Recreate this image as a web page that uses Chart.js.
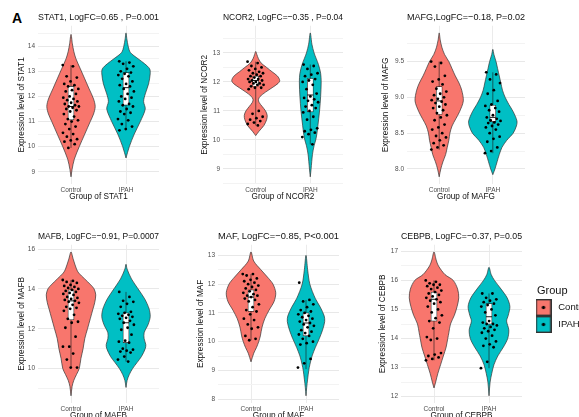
<!DOCTYPE html>
<html>
<head>
<meta charset="utf-8">
<script src="https://cdn.jsdelivr.net/npm/chart.js@4.4.1/dist/chart.umd.min.js"></script>
<style>
  html, body { margin: 0; padding: 0; background: #fff; overflow: hidden; width: 579px; height: 417px; }
  canvas { position: absolute; }
  #tag { position: absolute; left: 12px; top: 11px; font: bold 14px/14px "Liberation Sans", Arial, sans-serif; color: #000; }
</style>
</head>
<body>
<div id="tag">A</div>
<script>
// ---- data ----
const groups = ['Control', 'IPAH'];
const genes = ['STAT1', 'NCOR2', 'MAFG', 'MAFB', 'MAF', 'CEBPB'];
const titles = [
  'STAT1, LogFC=0.65 , P=0.001',
  'NCOR2, LogFC=\u22120.35 , P=0.04',
  'MAFG,LogFC=\u22120.18, P=0.02',
  'MAFB, LogFC=\u22120.91, P=0.0007',
  'MAF, LogFC=\u22120.85, P<0.001',
  'CEBPB, LogFC=\u22120.37, P=0.05'
];

// y tick labels
const stat1Ticks = ['9', '10', '11', '12', '13', '14'];
const ncor2Ticks = ['9', '10', '11', '12', '13'];
const mafgTicks = ['8.0', '8.5', '9.0', '9.5'];
const mafbTicks = ['10', '12', '14', '16'];
const mafTicks = ['8', '9', '10', '11', '12', '13'];
const cebpbTicks = ['12', '13', '14', '15', '16', '17'];

// violin outlines: [expression, half width]
const stat1CtrlViolin = [[8.8,0],[9.1,0.02],[9.5,0.06],[10,0.15],[10.5,0.25],[11,0.35],[11.3,0.41],[11.6,0.44],[11.9,0.41],[12.3,0.33],[12.7,0.25],[13.1,0.17],[13.5,0.09],[13.8,0.05],[14.1,0.025],[14.47,0]];
const stat1IpahViolin = [[9.55,0],[10,0.06],[10.5,0.15],[11,0.26],[11.5,0.35],[11.8,0.32],[12.1,0.35],[12.5,0.41],[12.9,0.44],[13.1,0.43],[13.3,0.34],[13.5,0.22],[13.75,0.08],[14,0.04],[14.3,0.015],[14.53,0]];
const ncor2CtrlViolin = [[10.15,0],[10.3,0.06],[10.5,0.15],[10.7,0.2],[10.85,0.21],[11,0.18],[11.15,0.12],[11.3,0.06],[11.4,0.05],[11.5,0.08],[11.65,0.18],[11.8,0.3],[11.95,0.41],[12.05,0.44],[12.2,0.4],[12.35,0.3],[12.5,0.2],[12.65,0.1],[12.8,0.05],[12.95,0.02],[13.05,0]];
const ncor2IpahViolin = [[8.73,0],[9,0.015],[9.5,0.04],[9.8,0.07],[10,0.1],[10.2,0.12],[10.5,0.14],[11,0.17],[11.5,0.19],[12,0.2],[12.3,0.19],[12.6,0.15],[12.8,0.11],[13,0.07],[13.3,0.03],[13.69,0]];
const mafgCtrlViolin = [[7.89,0],[8,0.03],[8.1,0.07],[8.2,0.12],[8.3,0.15],[8.4,0.18],[8.5,0.2],[8.6,0.24],[8.7,0.31],[8.8,0.38],[8.95,0.45],[9.1,0.42],[9.2,0.37],[9.3,0.3],[9.4,0.24],[9.5,0.18],[9.6,0.1],[9.7,0.05],[9.8,0.02],[9.9,0]];
const mafgIpahViolin = [[7.92,0],[8,0.04],[8.1,0.08],[8.2,0.12],[8.3,0.17],[8.4,0.26],[8.5,0.38],[8.6,0.44],[8.67,0.45],[8.8,0.38],[8.9,0.3],[9,0.23],[9.1,0.18],[9.2,0.15],[9.3,0.12],[9.4,0.09],[9.5,0.06],[9.6,0.02],[9.67,0]];
const mafbCtrlViolin = [[8.63,0],[9.1,0.02],[9.4,0.05],[9.7,0.1],[10,0.15],[10.5,0.18],[11,0.22],[11.5,0.25],[12,0.3],[12.5,0.35],[13,0.4],[13.3,0.43],[13.7,0.45],[14,0.42],[14.2,0.36],[14.5,0.25],[14.8,0.14],[15,0.1],[15.5,0.04],[15.86,0]];
const mafbIpahViolin = [[9.05,0],[9.4,0.02],[9.7,0.06],[10,0.12],[10.3,0.2],[10.6,0.28],[11,0.35],[11.2,0.36],[11.5,0.33],[11.8,0.33],[12.2,0.4],[12.6,0.44],[13,0.42],[13.5,0.34],[14,0.22],[14.5,0.1],[15,0.02],[15.24,0]];
const mafCtrlViolin = [[9.3,0],[9.6,0.05],[9.8,0.1],[10,0.14],[10.2,0.17],[10.5,0.2],[10.8,0.25],[11.1,0.33],[11.4,0.42],[11.7,0.45],[12,0.4],[12.2,0.32],[12.5,0.18],[12.8,0.05],[13.12,0]];
const mafIpahViolin = [[8.12,0],[8.4,0.012],[8.7,0.03],[9,0.05],[9.2,0.07],[9.5,0.11],[9.8,0.17],[10.1,0.24],[10.4,0.3],[10.7,0.34],[10.9,0.33],[11.2,0.26],[11.5,0.17],[12,0.07],[12.5,0.03],[13,0]];
const cebpbCtrlViolin = [[12.3,0],[12.5,0.03],[12.8,0.07],[13.1,0.12],[13.4,0.17],[13.7,0.22],[14,0.25],[14.2,0.27],[14.5,0.3],[14.8,0.37],[15.1,0.42],[15.4,0.45],[15.7,0.43],[16,0.35],[16.2,0.2],[16.5,0.08],[16.7,0.04],[16.98,0]];
const cebpbIpahViolin = [[12.03,0],[12.5,0.02],[12.8,0.05],[13.1,0.09],[13.4,0.16],[13.7,0.26],[14,0.34],[14.3,0.36],[14.6,0.32],[14.8,0.35],[15.1,0.38],[15.4,0.33],[15.7,0.22],[16,0.1],[16.2,0.04],[16.45,0]];

// box plots: [lower whisker, Q1, median, Q3, upper whisker]
const stat1CtrlBox = [9.95, 11.07, 11.6, 12.4, 13.25];
const stat1IpahBox = [10.7, 11.65, 12.35, 12.95, 13.4];
const ncor2CtrlBox = [10.5, 11.85, 12.05, 12.2, 12.7];
const ncor2IpahBox = [9.85, 10.97, 11.55, 12.12, 12.6];
const mafgCtrlBox = [8.27, 8.76, 8.95, 9.15, 9.5];
const mafgIpahBox = [8.22, 8.66, 8.72, 8.89, 9.35];
const mafbCtrlBox = [10.05, 12.45, 13.4, 13.95, 14.45];
const mafbIpahBox = [10.35, 11.3, 12.3, 12.8, 13.85];
const mafCtrlBox = [10.05, 11.05, 11.55, 11.8, 12.35];
const mafIpahBox = [9.05, 10.2, 10.65, 11.0, 11.45];
const cebpbCtrlBox = [13.25, 14.6, 15.35, 15.6, 16.0];
const cebpbIpahBox = [12.98, 14.5, 14.75, 15.2, 15.55];

// sample values (jittered dots)
const stat1CtrlPts = [13.25, 13.2, 12.8, 12.75, 12.6, 12.5, 12.45, 12.4, 12.3, 12.25, 12.2, 12.1, 12.0, 11.95, 11.9, 11.85, 11.8, 11.75, 11.7, 11.65, 11.6, 11.6, 11.55, 11.5, 11.45, 11.4, 11.3, 11.2, 11.1, 11.05, 11.0, 10.9, 10.8, 10.7, 10.55, 10.5, 10.4, 10.3, 10.25, 10.2, 10.1, 9.95];
const stat1IpahPts = [13.4, 13.35, 13.3, 13.2, 13.1, 13.0, 12.95, 12.9, 12.85, 12.8, 12.7, 12.6, 12.5, 12.45, 12.4, 12.3, 12.2, 12.1, 12.0, 11.95, 11.9, 11.8, 11.7, 11.65, 11.6, 11.5, 11.4, 11.35, 11.3, 11.1, 11.05, 10.9, 10.8, 10.7, 10.65];
const ncor2CtrlPts = [12.7, 12.65, 12.55, 12.5, 12.45, 12.4, 12.35, 12.3, 12.3, 12.25, 12.2, 12.2, 12.15, 12.1, 12.1, 12.05, 12.05, 12.0, 12.0, 11.95, 11.95, 11.9, 11.9, 11.85, 11.8, 11.8, 11.75, 11.0, 10.9, 10.8, 10.75, 10.7, 10.65, 10.6, 10.55, 10.5];
const ncor2IpahPts = [12.6, 12.55, 12.45, 12.3, 12.25, 12.2, 12.1, 12.05, 12.0, 11.9, 11.75, 11.6, 11.5, 11.45, 11.4, 11.35, 11.3, 11.2, 11.15, 11.1, 11.0, 10.95, 10.8, 10.7, 10.4, 10.35, 10.3, 10.25, 10.2, 10.1, 9.85];
const mafgCtrlPts = [9.5, 9.48, 9.43, 9.3, 9.25, 9.22, 9.18, 9.12, 9.08, 9.05, 9.03, 9.0, 8.98, 8.96, 8.94, 8.92, 8.9, 8.87, 8.85, 8.82, 8.78, 8.75, 8.72, 8.68, 8.62, 8.58, 8.55, 8.5, 8.46, 8.44, 8.4, 8.36, 8.33, 8.3, 8.27];
const mafgIpahPts = [9.35, 9.32, 9.25, 9.2, 9.1, 9.05, 8.95, 8.9, 8.88, 8.85, 8.82, 8.8, 8.75, 8.72, 8.7, 8.68, 8.67, 8.65, 8.64, 8.62, 8.6, 8.58, 8.55, 8.5, 8.45, 8.42, 8.38, 8.3, 8.25, 8.22];
const mafbCtrlPts = [14.45, 14.4, 14.35, 14.3, 14.2, 14.15, 14.1, 14.05, 14.0, 13.95, 13.9, 13.85, 13.8, 13.75, 13.7, 13.6, 13.55, 13.5, 13.45, 13.4, 13.35, 13.3, 13.2, 13.1, 13.05, 13.0, 12.9, 12.7, 12.5, 12.35, 12.3, 12.05, 11.6, 11.1, 11.1, 10.75, 10.45, 10.05, 10.05];
const mafbIpahPts = [13.85, 13.6, 13.4, 13.35, 13.25, 13.1, 12.85, 12.8, 12.75, 12.7, 12.65, 12.6, 12.55, 12.5, 12.4, 12.3, 12.2, 12.05, 11.95, 11.7, 11.4, 11.35, 11.3, 11.0, 10.95, 10.9, 10.85, 10.8, 10.6, 10.45, 10.35];
const mafCtrlPts = [12.35, 12.35, 12.3, 12.2, 12.15, 12.1, 12.05, 12.0, 11.95, 11.9, 11.85, 11.8, 11.75, 11.7, 11.65, 11.6, 11.6, 11.55, 11.5, 11.45, 11.4, 11.3, 11.2, 11.1, 11.05, 10.95, 10.8, 10.75, 10.6, 10.5, 10.45, 10.2, 10.1, 10.05];
const mafIpahPts = [12.05, 11.45, 11.4, 11.3, 11.2, 11.1, 11.05, 11.0, 10.95, 10.9, 10.85, 10.8, 10.75, 10.7, 10.65, 10.6, 10.55, 10.5, 10.4, 10.35, 10.3, 10.25, 10.2, 10.1, 10.0, 9.95, 9.9, 9.4, 9.25, 9.1];
const cebpbCtrlPts = [16.0, 15.95, 15.9, 15.85, 15.85, 15.8, 15.75, 15.7, 15.65, 15.6, 15.55, 15.5, 15.45, 15.4, 15.35, 15.3, 15.25, 15.2, 15.1, 15.0, 14.9, 14.8, 14.7, 14.6, 14.55, 14.35, 14.05, 14.0, 13.95, 13.5, 13.45, 13.4, 13.35, 13.3, 13.25];
const cebpbIpahPts = [15.55, 15.55, 15.4, 15.35, 15.3, 15.25, 15.2, 15.15, 15.1, 15.0, 14.9, 14.8, 14.6, 14.55, 14.5, 14.5, 14.45, 14.4, 14.35, 14.3, 14.25, 14.2, 14.1, 14.0, 13.9, 13.8, 13.75, 13.7, 13.2, 12.98];

// ---- styling / placement ----
const FONT = '"Liberation Sans", Arial, sans-serif';
const fillColors = ['#F8766D', '#00BFC4'];
const Y_AXIS_W = 38;
// canvas frames per panel (left, top, width, height), title offset and y-title padding
const frames = [
  { left: 0,   top: 0,   w: 163, h: 205, padTop: 11.2, yTitlePad: 17 },
  { left: 185, top: 0,   w: 162, h: 205, padTop: 11.2, yTitlePad: 15 },
  { left: 369, top: 0,   w: 160, h: 205, padTop: 11.2, yTitlePad: 12 },
  { left: 0,   top: 219, w: 163, h: 205, padTop: 11.2, yTitlePad: 17 },
  { left: 180, top: 219, w: 163, h: 205, padTop: 11.2, yTitlePad: 16 },
  { left: 363, top: 219, w: 163, h: 205, padTop: 11.2, yTitlePad: 15 }
];

const panels = [
  { ticks: stat1Ticks, violins: [stat1CtrlViolin, stat1IpahViolin], boxes: [stat1CtrlBox, stat1IpahBox], pts: [stat1CtrlPts, stat1IpahPts] },
  { ticks: ncor2Ticks, violins: [ncor2CtrlViolin, ncor2IpahViolin], boxes: [ncor2CtrlBox, ncor2IpahBox], pts: [ncor2CtrlPts, ncor2IpahPts] },
  { ticks: mafgTicks, violins: [mafgCtrlViolin, mafgIpahViolin], boxes: [mafgCtrlBox, mafgIpahBox], pts: [mafgCtrlPts, mafgIpahPts] },
  { ticks: mafbTicks, violins: [mafbCtrlViolin, mafbIpahViolin], boxes: [mafbCtrlBox, mafbIpahBox], pts: [mafbCtrlPts, mafbIpahPts] },
  { ticks: mafTicks, violins: [mafCtrlViolin, mafIpahViolin], boxes: [mafCtrlBox, mafIpahBox], pts: [mafCtrlPts, mafIpahPts] },
  { ticks: cebpbTicks, violins: [cebpbCtrlViolin, cebpbIpahViolin], boxes: [cebpbCtrlBox, cebpbIpahBox], pts: [cebpbCtrlPts, cebpbIpahPts] }
];

// fixed (non random) horizontal spread for the dots
function jit(i) { return (((i * 0.6180339887) % 1) - 0.5) * 0.3; }

function violinPath(profile, c) {
  const right = profile.map(p => ({ x: c + p[1], y: p[0] }));
  const left = profile.slice(0, -1).reverse().map(p => ({ x: c - p[1], y: p[0] }));
  return right.concat(left);
}

function makeCanvas(f) {
  const cv = document.createElement('canvas');
  cv.width = f.w; cv.height = f.h;
  cv.style.left = f.left + 'px'; cv.style.top = f.top + 'px';
  document.body.appendChild(cv);
  return cv;
}

panels.forEach((p, k) => {
  const f = frames[k];
  const gene = genes[k];

  // ggplot style 5% expansion of the violin extent
  const lo = Math.min(p.violins[0][0][0], p.violins[1][0][0]);
  const hi = Math.max(p.violins[0][p.violins[0].length - 1][0], p.violins[1][p.violins[1].length - 1][0]);
  const yMin = lo - (hi - lo) * 0.05, yMax = hi + (hi - lo) * 0.05;

  const majors = p.ticks.map(Number);
  const step = majors[1] - majors[0];
  const yTicks = [];
  for (let v = majors[0] - step / 2; v <= majors[majors.length - 1] + step / 2 + 1e-9; v += step / 2) {
    if (v < yMin || v > yMax) continue;
    const idx = majors.findIndex(m => Math.abs(m - v) < 1e-6);
    yTicks.push({ value: v, lab: idx >= 0 ? p.ticks[idx] : '' });
  }

  const datasets = [];
  datasets.push({
    type: 'scatter', order: 0,
    data: groups.flatMap((g, gi) => p.pts[gi].map((y, i) => ({ x: gi + 1 + jit(i + gi * 5), y }))),
    pointRadius: 1.4, pointBackgroundColor: '#000', pointBorderWidth: 0
  });
  datasets.push({
    type: 'bar', order: 2, grouped: false, barThickness: 6,
    data: groups.map((g, gi) => ({ x: gi + 1, y: [p.boxes[gi][1], p.boxes[gi][3]] })),
    backgroundColor: '#fff', borderColor: '#1a1a1a', borderWidth: 0.7, borderSkipped: false
  });
  groups.forEach((g, gi) => {
    const c = gi + 1, b = p.boxes[gi];
    datasets.push({ type: 'line', order: 1, data: [{ x: c - 0.055, y: b[2] }, { x: c + 0.055, y: b[2] }],
      borderColor: '#1a1a1a', borderWidth: 1, pointRadius: 0 });
    datasets.push({ type: 'line', order: 3, data: [{ x: c, y: b[0] }, { x: c, y: b[4] }],
      borderColor: '#1a1a1a', borderWidth: 0.6, pointRadius: 0 });
    datasets.push({ type: 'line', order: 4, data: violinPath(p.violins[gi], c), fill: 'shape',
      backgroundColor: fillColors[gi], borderColor: '#333', borderWidth: 0.7, pointRadius: 0, tension: 0.3 });
  });

  new Chart(makeCanvas(f), {
    type: 'scatter',
    data: { datasets },
    options: {
      responsive: false, animation: false, devicePixelRatio: 1,
      layout: { padding: { top: f.padTop, left: 0, right: 0, bottom: 0 } },
      plugins: {
        legend: { display: false },
        tooltip: { enabled: false },
        title: {
          display: true, text: titles[k], align: 'start', fullSize: false, color: '#111',
          font: { family: FONT, size: 9.6, weight: 'normal' }, padding: { top: 0, bottom: 3 }
        }
      },
      scales: {
        x: {
          type: 'linear', min: 0.4, max: 2.6, bounds: 'data', offset: false,
          afterBuildTicks: s => { s.ticks = groups.map((g, i) => ({ value: i + 1 })); },
          afterFit: s => { s.height = 21; },
          ticks: { callback: v => groups[Math.round(v) - 1], color: '#4d4d4d', font: { family: FONT, size: 6.5 },
                   padding: 2, autoSkip: false, maxRotation: 0 },
          grid: { color: '#ebebeb', lineWidth: 1, drawTicks: false, offset: false },
          border: { display: false },
          title: { display: true, text: 'Group of ' + gene, color: '#111', font: { family: FONT, size: 8.2 },
                   padding: { top: 0, bottom: 3 } }
        },
        y: {
          type: 'linear', min: yMin, max: yMax, bounds: 'data',
          afterBuildTicks: s => { s.ticks = yTicks.map(t => ({ value: t.value, lab: t.lab })); },
          afterFit: s => { s.width = Y_AXIS_W; },
          ticks: { callback: (v, i, t) => t[i].lab, color: '#4d4d4d', font: { family: FONT, size: 6.5 },
                   padding: 3, autoSkip: false },
          grid: { color: c => (c.tick && c.tick.lab ? '#e8e8e8' : '#f3f3f3'), lineWidth: 1, drawTicks: false },
          border: { display: false },
          title: { display: true, text: 'Expression level of ' + gene, color: '#111', font: { family: FONT, size: 8.2 },
                   padding: { top: f.yTitlePad, bottom: 0 } }
        }
      }
    }
  });
});

// ---- legend (its own small chart) ----
function keyImage(color) {
  const k = document.createElement('canvas');
  k.width = 16; k.height = 17;
  const g = k.getContext('2d');
  g.fillStyle = color; g.fillRect(0, 0, 16, 17);
  g.strokeStyle = '#333'; g.lineWidth = 1.4; g.strokeRect(0.7, 0.7, 14.6, 15.6);
  g.fillStyle = '#000'; g.beginPath(); g.arc(8, 8.5, 1.7, 0, Math.PI * 2); g.fill();
  return k;
}

new Chart(makeCanvas({ left: 526, top: 282, w: 200, h: 70 }), {
  type: 'bar',
  data: { labels: [], datasets: groups.map((g, i) => ({ label: g, data: [], backgroundColor: fillColors[i] })) },
  options: {
    responsive: false, animation: false, devicePixelRatio: 1,
    scales: { x: { display: false }, y: { display: false } },
    plugins: {
      tooltip: { enabled: false },
      legend: {
        position: 'left', align: 'start',
        title: { display: true, text: '\u2002\u2002Group', position: 'start', color: '#111', font: { family: FONT, size: 11 },
                 padding: { top: 3, bottom: -3 } },
        labels: {
          usePointStyle: true, pointStyleWidth: 20, padding: 7.5, color: '#111', font: { family: FONT, size: 9.5 },
          generateLabels: c => c.data.datasets.map((d, i) => ({
            text: d.label, pointStyle: keyImage(fillColors[i]), fillStyle: fillColors[i],
            strokeStyle: '#333', lineWidth: 0, hidden: false, datasetIndex: i
          }))
        }
      }
    }
  }
});
</script>
</body>
</html>
